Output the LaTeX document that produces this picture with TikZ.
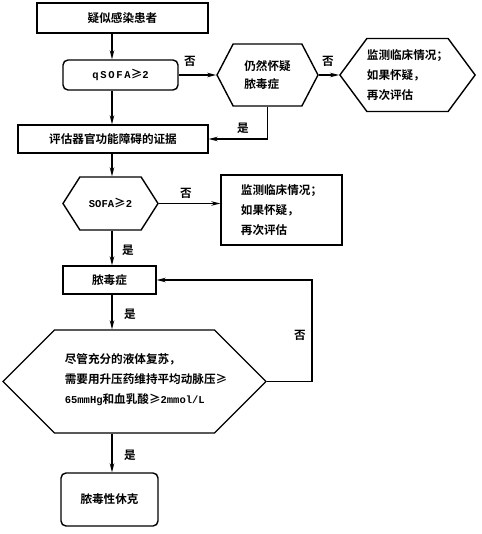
\documentclass[tikz,border=0pt]{standalone}
\usepackage{fontspec}
\setmainfont{Noto Sans CJK SC}[BoldFont={Noto Sans CJK SC Bold}]
\setmonofont{Liberation Mono}
\usetikzlibrary{arrows.meta,shapes.symbols}

\tikzset{
  txt/.style={font=\bfseries\fontsize{11.6}{20}\selectfont},
  box/.style={draw, line width=1.4pt, inner sep=0pt, txt},
  rbox/.style={box, rounded corners=5pt},
  hexa/.style={draw, line width=1.4pt, signal, signal to=west and east, inner sep=0pt, txt},
  lbl/.style={font=\bfseries\fontsize{11.6}{13}\selectfont, inner sep=0pt},
  flow/.style={line width=1.4pt, -{Stealth[length=9pt,width=4.5pt]}},
}
\newcommand{\lat}[1]{{\ttfamily\fontsize{10.5}{12}\selectfont #1}}

\begin{document}
\begin{tikzpicture}[x=1pt, y=-1pt]
  \useasboundingbox (0,0) rectangle (481,534);
  \coordinate (spine) at (112,0);

  % upper part
  \node[box, minimum width=171pt, minimum height=30pt] (suspect) at (122.5,18) {疑似感染患者};
  \node[rbox, minimum width=115pt, minimum height=30pt] (qsofa) at (120.5,75) {\lat{q\,S\,O\,F\,A}≥\lat{2}};
  \node[hexa, minimum width=101pt, minimum height=62pt, signal pointer angle=125, align=left] (still) at (267.5,75) {仍然怀疑\\[-2pt]脓毒症};
  \node[hexa, minimum width=135pt, minimum height=73pt, signal pointer angle=107, align=left] (watch1) at (407.5,75) {监测临床情况；\\如果怀疑，\\再次评估};
  \node[box, minimum width=190pt, minimum height=28pt] (organ) at (113,139) {评估器官功能障碍的证据};

  % middle part
  \node[hexa, minimum width=95pt, minimum height=53pt, signal pointer angle=115] (sofa) at (110.5,203.5) {\lat{SOFA}≥\lat{2}};
  \node[box, minimum width=121pt, minimum height=70pt, align=left] (watch2) at (281.5,210) {监测临床情况；\\如果怀疑，\\再次评估};
  \node[box, minimum width=93pt, minimum height=28pt] (sepsis) at (109.5,280) {脓毒症};

  % lower part
  \node[hexa, minimum width=263pt, minimum height=103pt, signal pointer angle=90] (shockhex) at (134.5,381.5) {};
  \node[txt, align=left, inner sep=0pt] (shocktxt) at (146,380) {尽管充分的液体复苏，\\需要用升压药维持平均动脉压≥\\\lat{65mmHg}和血乳酸≥\lat{2mmol/L}};
  \node[rbox, minimum width=97pt, minimum height=53pt] (shock) at (109.5,499.5) {脓毒性休克};

  % connectors
  \draw[flow] (suspect.south -| spine) -- (qsofa.north -| spine);
  \draw[flow] (qsofa.east) -- (still.west);
  \node[lbl] (no1) at (190,61) {否};
  \draw[flow] (still.east) -- (watch1.west);
  \node[lbl] (no2) at (328,61) {否};
  \draw[flow] (qsofa.south -| spine) -- (organ.north -| spine);
  \draw[flow] (still.south) |- (organ.east);
  \node[lbl] (yes1) at (243,128) {是};
  \draw[flow] (organ.south -| spine) -- (sofa.north -| spine);
  \draw[flow] (sofa.east) -- (sofa.east -| watch2.west);
  \node[lbl] (no3) at (186,193) {否};
  \draw[flow] (sofa.south -| spine) -- (sepsis.north -| spine);
  \node[lbl] (yes2) at (128,250) {是};
  \draw[flow] (sepsis.south -| spine) -- (shockhex.north -| spine);
  \node[lbl] (yes3) at (130,314) {是};
  \draw[flow] (shockhex.east) -- ++(45,0) |- (sepsis.east);
  \node[lbl] (no4) at (300,335) {否};
  \draw[flow] (shockhex.south -| spine) -- (shock.north -| spine);
  \node[lbl] (yes4) at (130,455) {是};
\end{tikzpicture}
\end{document}
